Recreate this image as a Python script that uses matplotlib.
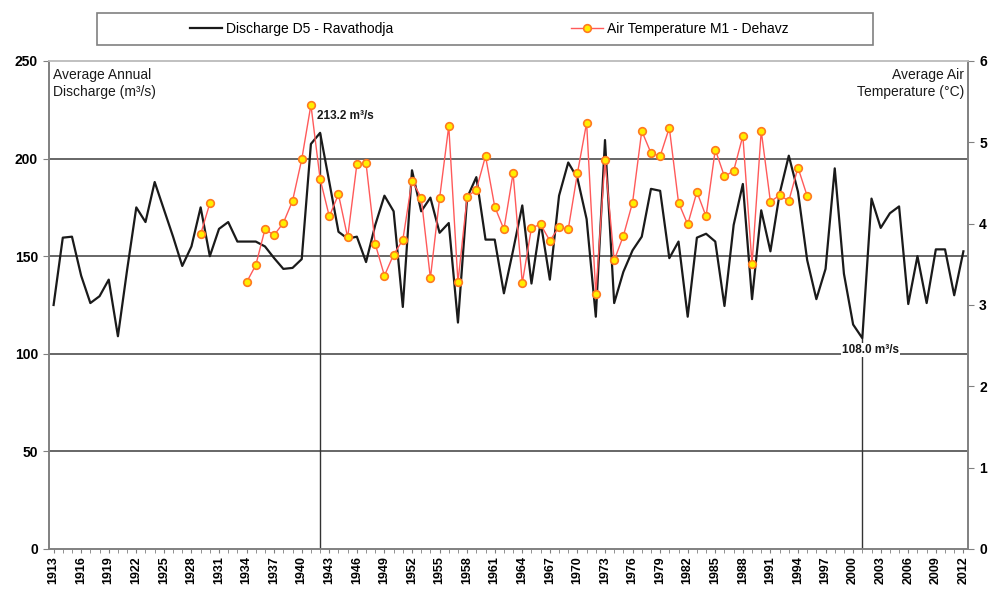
import matplotlib.pyplot as plt
import numpy as np
from matplotlib.patches import Rectangle
from matplotlib.lines import Line2D

plt.rcParams['font.family'] = ['Liberation Sans', 'DejaVu Sans']

# discharge D5 - Ravathodja, 1913..2012 (m3/s)
years = list(range(1913, 2013))
discharge = [
    125, 159.5, 160, 140, 126, 129.5, 138, 109, 143, 175,
    167.5, 188, 174, 160, 145, 155, 175, 150, 164, 167.5,
    157.5, 157.5, 157.5, 155, 149, 143.5, 144, 148.5, 207.5, 213.2,
    188, 162.5, 159, 160, 147, 166, 181, 173, 124, 194,
    173, 180, 162, 167, 116, 180, 190.5, 158.5, 158.5, 131,
    153, 176, 136, 167.5, 138, 181, 198, 190, 169, 119,
    209.5, 126, 142, 153, 160, 184.5, 183.5, 149, 157.5, 119,
    159.5, 161.5, 157.5, 124.5, 166, 187, 128, 173.5, 152.5, 182,
    201.5, 183, 148, 128, 143.5, 195, 141, 115, 108.0, 179.5,
    164.5, 172, 175.5, 125.5, 150, 126, 153.5, 153.5, 130, 152.5,
]

# air temperature M1 - Dehavz, 1929..1995 (deg C), None = no record
temp_years = list(range(1929, 1996))
temperature = [
    3.87, 4.25, None, None, None,
    3.28, 3.49, 3.93, 3.86, 4.01, 4.28, 4.79, 5.46, 4.55, 4.09,
    4.36, 3.83, 4.73, 4.74, 3.75, 3.36, 3.62, 3.80, 4.53, 4.32,
    3.33, 4.31, 5.20, 3.28, 4.33, 4.42, 4.83, 4.21, 3.93, 4.62,
    3.27, 3.95, 3.99, 3.79, 3.96, 3.93, 4.62, 5.24, 3.13, 4.78,
    3.55, 3.85, 4.26, 5.14, 4.87, 4.83, 5.18, 4.26, 3.99, 4.39,
    4.09, 4.91, 4.58, 4.65, 5.08, 3.50, 5.14, 4.27, 4.35, 4.28,
    4.69, 4.34,
]

# marked extremes
max_year, max_val = 1942, 213.2
min_year, min_val = 2001, 108.0

temp_arr = np.array([np.nan if t is None else t for t in temperature], dtype=float)

fig = plt.figure(figsize=(9.9, 5.92), dpi=100)
ax = fig.add_axes([49 / 990, 1 - 549 / 592, (968 - 49) / 990, (549 - 61) / 592])
ax2 = ax.twinx()

grid_c = '#5a5a5a'
axis_c = '#808080'

for v in [50, 100, 150, 200]:
    ax.axhline(v, color=grid_c, lw=1.3, zorder=1)

ax.vlines([max_year], 0, max_val, color='#333333', lw=1.0, zorder=1)
ax.vlines([min_year], 0, min_val, color='#333333', lw=1.0, zorder=1)

ax.plot(years, discharge, color='#1a1a1a', lw=1.6, zorder=3)
ax2.plot(temp_years, temp_arr, color='#ff5a5a', lw=1.0,
         marker='o', ms=5.5, mfc='#ffee00', mec='#ff7a20', mew=1.2, zorder=4)

ax.set_xlim(1912.5, 2012.5)
ax.set_ylim(0, 250)
ax2.set_ylim(0, 6)

ax.set_xticks(years[::3])
ax.set_xticklabels([str(y) for y in years[::3]], rotation=90, fontsize=9, fontweight='bold')
ax.set_xticks(years, minor=True)
ax.tick_params(axis='x', which='both', direction='out', length=3, color=axis_c, pad=2)

ax.set_yticks(range(0, 251, 50))
ax.tick_params(axis='y', direction='out', length=4, color=axis_c, labelsize=10, pad=4)
for lbl in ax.get_yticklabels():
    lbl.set_fontweight('bold')

ax2.set_yticks(range(0, 7))
ax2.tick_params(axis='y', direction='out', length=4, color=axis_c, labelsize=10, pad=4)
for lbl in ax2.get_yticklabels():
    lbl.set_fontweight('bold')

for side in ['left', 'right', 'bottom']:
    ax.spines[side].set_color(axis_c)
    ax2.spines[side].set_color(axis_c)
ax.spines['top'].set_color('#c0c0c0')
ax2.spines['top'].set_color('#c0c0c0')
for sp in ax.spines.values():
    sp.set_linewidth(1.2)
for sp in ax2.spines.values():
    sp.set_linewidth(1.2)

ax.text(0.004, 0.985, 'Average Annual\nDischarge (m³/s)', transform=ax.transAxes,
        ha='left', va='top', fontsize=10, color='#1a1a1a', linespacing=1.25)
ax.text(0.996, 0.985, 'Average Air\nTemperature (°C)', transform=ax.transAxes,
        ha='right', va='top', multialignment='right', fontsize=10,
        color='#1a1a1a', linespacing=1.25, zorder=6)

ax2.annotate(f'{max_val:.1f} m³/s', xy=(max_year, max_val), xycoords=ax.transData,
             xytext=(-2, 8), textcoords='offset points', ha='left', va='bottom',
             fontsize=8.5, fontweight='bold', color='#1a1a1a')
ax2.annotate(f'{min_val:.1f} m³/s', xy=(min_year, min_val), xycoords=ax.transData,
             xytext=(6, -4), textcoords='offset points', ha='center', va='top',
             fontsize=8.5, fontweight='bold', color='#1a1a1a',
             bbox=dict(boxstyle='square,pad=0.1', fc='white', ec='none'))

# legend box above the plot
fig.patches.append(Rectangle((97 / 990, 1 - 45 / 592), (873 - 97) / 990, 32 / 592,
                             transform=fig.transFigure, fill=False,
                             ec='#808080', lw=1.2))
h1 = Line2D([], [], color='#1a1a1a', lw=1.6)
h2 = Line2D([], [], color='#ff5a5a', lw=1.0, marker='o', ms=5.5,
            mfc='#ffee00', mec='#ff7a20', mew=1.2)
for h, lab, cx in [(h1, 'Discharge D5 - Ravathodja', 292 / 990),
                   (h2, 'Air Temperature M1 - Dehavz', 680 / 990)]:
    fig.legend([h], [lab], loc='center', bbox_to_anchor=(cx, 1 - 29 / 592),
               frameon=False, fontsize=10, handlelength=2.3, handletextpad=0.3,
               borderpad=0)

fig.savefig('out.png', dpi=100)
